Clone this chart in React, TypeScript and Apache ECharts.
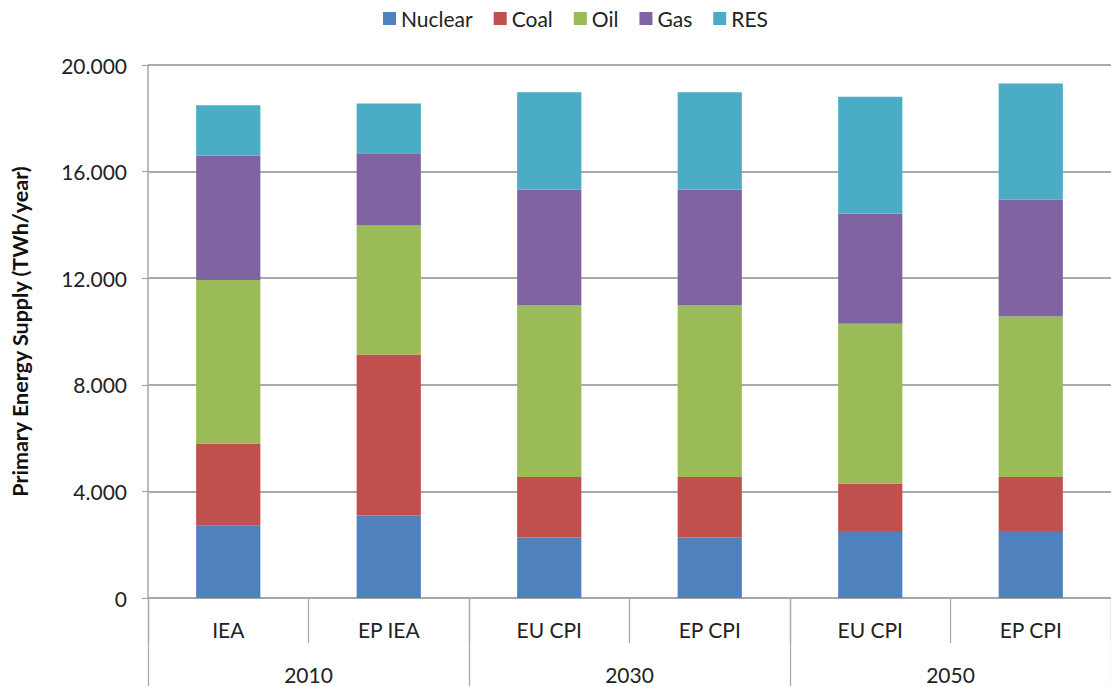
import React, { useEffect, useRef } from "react";
import * as echarts from "echarts";

const categories = ["IEA", "EP IEA", "EU CPI", "EP CPI", "EU CPI", "EP CPI"];
const groups = ["2010", "2030", "2050"];
const seriesNames = ["Nuclear", "Coal", "Oil", "Gas", "RES"];
const nuclear = [2710, 3100, 2270, 2270, 2510, 2510];
const coal = [3090, 6040, 2270, 2270, 1790, 2030];
const oil = [6130, 4840, 6450, 6450, 5990, 6020];
const gas = [4670, 2710, 4340, 4340, 4140, 4380];
const res = [1890, 1870, 3650, 3650, 4380, 4370];
const colors = ["#4F81BD", "#C0504D", "#9BBB59", "#8064A2", "#4BACC6"];

const fmt = (v: number) => {
  if (v === 0) return "0";
  const s = String(Math.round(v));
  return s.replace(/\B(?=(\d{3})+(?!\d))/g, ".");
};

export default function App() {
  const ref = useRef<HTMLDivElement>(null);
  useEffect(() => {
    document.body.style.margin = "0";
    const chart = echarts.init(ref.current!, null, { renderer: "svg" });
    const font = "Lato, 'Open Sans', sans-serif";
    const data = [nuclear, coal, oil, gas, res];
    const axisGray = "#A6A6A6";
    chart.setOption({
      animation: false,
      textStyle: { fontFamily: font },
      legend: {
        top: 8,
        left: 383,
        padding: 0,
        itemWidth: 13,
        itemHeight: 13,
        itemGap: 21,
        icon: "rect",
        textStyle: { fontSize: 21, color: "#222", fontFamily: font },
        data: seriesNames,
      },
      grid: { left: 148, right: 0, top: 65, bottom: 88 },
      xAxis: [
        {
          type: "category",
          data: categories,
          axisLine: { show: true, lineStyle: { color: axisGray, width: 1.5 } },
          axisTick: { show: true, length: 45, lineStyle: { color: axisGray, width: 1.2 } },
          axisLabel: { show: true, fontSize: 21, color: "#222", margin: 21, fontFamily: font },
        },
        {
          type: "category",
          position: "bottom",
          data: groups,
          axisLine: { show: false },
          axisTick: { show: true, length: 88, lineStyle: { color: axisGray, width: 1.2 } },
          axisLabel: { show: true, fontSize: 21, color: "#222", margin: 66, fontFamily: font },
        },
      ],
      yAxis: {
        type: "value",
        min: 0,
        max: 20000,
        interval: 4000,
        name: "Primary Energy Supply (TWh/year)",
        nameLocation: "middle",
        nameGap: 117,
        nameTextStyle: { fontSize: 21.5, fontWeight: "bold", color: "#111", fontFamily: font },
        axisLine: { show: true, lineStyle: { color: axisGray, width: 1.5 } },
        axisTick: { show: true, length: 6, lineStyle: { color: axisGray, width: 1.2 } },
        axisLabel: { show: true, fontSize: 21, color: "#222", margin: 21, formatter: fmt, fontFamily: font },
        splitLine: { show: true, lineStyle: { color: "#8C8C8C", width: 1.5 } },
      },
      series: seriesNames.map((name, i) => ({
        name,
        type: "bar",
        stack: "total",
        barWidth: "40%",
        xAxisIndex: 0,
        data: data[i],
        itemStyle: { color: colors[i] },
      })),
    });
    return () => chart.dispose();
  }, []);
  return <div ref={ref} style={{ width: 1111, height: 686 }} />;
}
